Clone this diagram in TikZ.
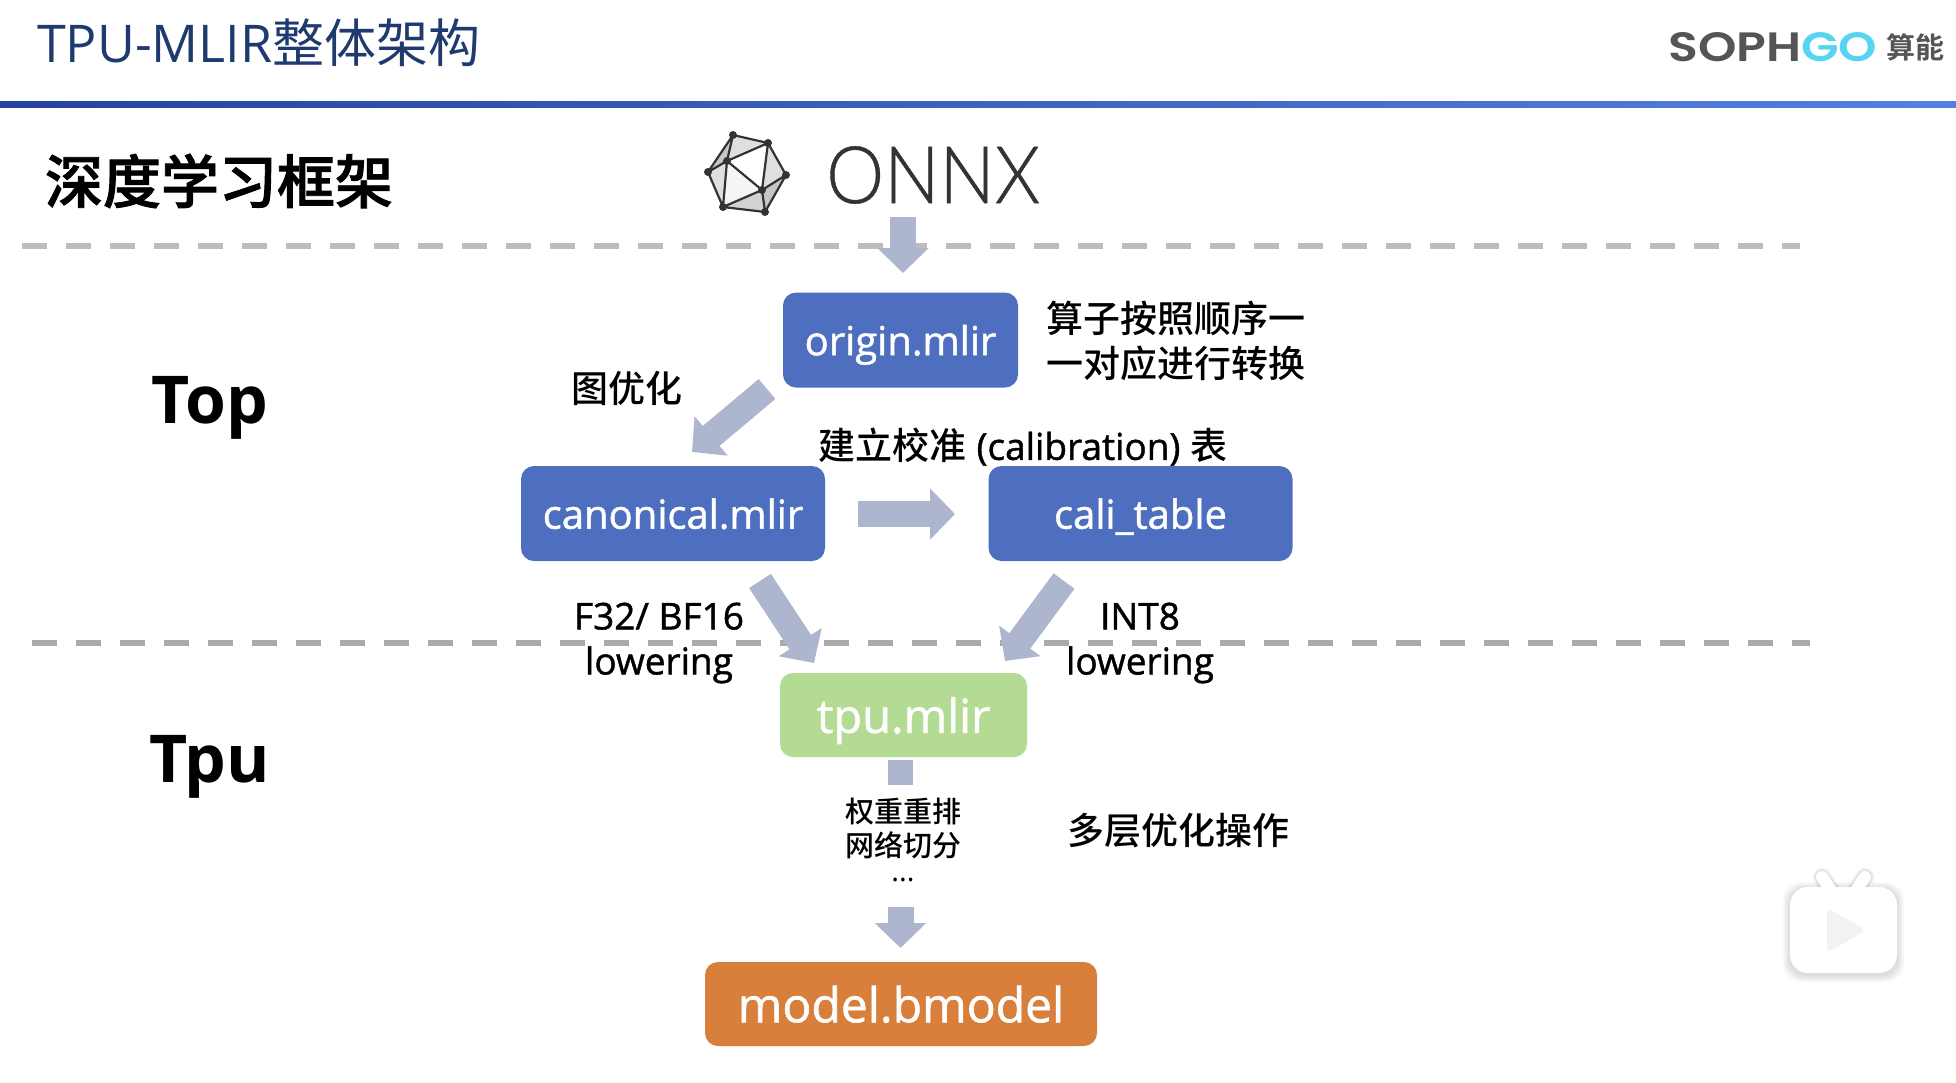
\documentclass[tikz,border=0pt]{standalone}
\usepackage{fontspec}
\setmainfont{Open Sans}
\newfontfamily\cjk{Noto Sans CJK SC Medium}
\newfontfamily\cjkbold{Noto Sans CJK SC Bold}
\newfontfamily\cjkheavy[FakeBold=1.5]{Noto Sans CJK SC Medium}
\newfontfamily\onnxfont[FakeBold=0.6]{Lato Light}
\newfontfamily\logofont{Poppins SemiBold}
\newfontfamily\semifont[FakeBold=1.2]{Open Sans}
\usetikzlibrary{arrows.meta}
\definecolor{boxblue}{HTML}{4E6EBF}
\definecolor{boxgreen}{HTML}{B3DB93}
\definecolor{boxorange}{HTML}{D97F3C}
\definecolor{arrowgray}{HTML}{AEB6CF}
\definecolor{dashgray}{HTML}{BDBDBD}
\definecolor{titleblue}{HTML}{1F3A6E}
\definecolor{barleft}{HTML}{24449E}
\definecolor{barright}{HTML}{5580E0}
\definecolor{logogray}{HTML}{555555}
\definecolor{logocyan}{HTML}{55D5F2}
\tikzset{
  stage/.style = {rounded corners=13pt, text=white, inner sep=0pt, minimum height=95pt, text depth=0pt, font=\fontsize{40pt}{40pt}\selectfont\semifont},
  label/.style = {inner sep=0pt, align=center, font=\fontsize{37pt}{45pt}\selectfont\semifont},
  layer/.style = {inner sep=0pt, font=\fontsize{66pt}{66pt}\selectfont\bfseries},
  flow/.style = {draw=arrowgray, line width=26pt, -{Triangle[length=25pt,width=50pt]}},
  stub/.style = {draw=arrowgray, line width=25pt},
  divider/.style = {draw=dashgray, line width=6pt, dash pattern=on 25pt off 19pt},
}
\begin{document}
\begin{tikzpicture}[x=1pt,y=-1pt]
  \useasboundingbox (0,0) rectangle (1956,1082);

  \shade[left color=barleft, right color=barright] (0,101) rectangle (1956,107);
  \node[inner sep=0pt, anchor=west, text=titleblue, font=\fontsize{52pt}{52pt}\selectfont] (title) at (37,43) {TPU-MLIR{\fontspec{Noto Sans CJK SC}整体架构}};

  % logo
  \node[inner sep=0pt, anchor=west] (logo) at (1668,47) {\resizebox{209pt}{29pt}{\logofont\textcolor{logogray}{SOPH}\textcolor{logocyan}{GO}}};
  \node[inner sep=0pt, anchor=west, text=logogray, font=\fontsize{29pt}{29pt}\selectfont] (logocn) at (1886,47) {\cjkbold 算能};

  \draw[divider] (22,246) -- (1800,246);
  \draw[divider, draw=dashgray!90!black] (32,643) -- (1810,643);

  \node[inner sep=0pt, font=\fontsize{58pt}{58pt}\selectfont] (framework) at (219,181) {\cjkheavy 深度学习框架};
  \node[layer] (top) at (210,408) {Top};
  \node[layer] (tpu) at (210,767) {Tpu};

  % onnx logo
  \coordinate (p1) at (733,135);
  \coordinate (p2) at (768,143);
  \coordinate (p3) at (786,175);
  \coordinate (p4) at (765,212);
  \coordinate (p5) at (723,207);
  \coordinate (p6) at (708,172);
  \coordinate (p7) at (727,161);
  \coordinate (p8) at (762,190);
  \fill[gray!45] (p1) -- (p2) -- (p3) -- (p4) -- (p5) -- (p6) -- cycle;
  \fill[gray!25] (p1) -- (p2) -- (p7) -- cycle;
  \fill[gray!25] (p2) -- (p3) -- (p8) -- cycle;
  \fill[gray!25] (p6) -- (p7) -- (p5) -- cycle;
  \fill[gray!35] (p5) -- (p8) -- (p4) -- cycle;
  \fill[white] (p7) -- (p2) -- (p8) -- cycle;
  \fill[gray!8] (p7) -- (p8) -- (p5) -- cycle;
  \draw[line width=2.2pt, draw=black!80] (p1) -- (p2) -- (p3) -- (p4) -- (p5) -- (p6) -- cycle
    (p1) -- (p7) -- (p2) -- (p8) -- (p7) -- (p6)
    (p7) -- (p5) -- (p8) -- (p4) (p8) -- (p3);
  \foreach \p in {p1,p2,p3,p4,p5,p6,p7,p8} \fill[black!80] (\p) circle (4pt);
  \node[inner sep=0pt, anchor=west, text=black!80] (onnx) at (826,175) {\resizebox{214pt}{57pt}{\onnxfont ONNX}};

  \node[stage, fill=boxblue, minimum width=235pt] (origin) at (900.5,340) {origin.mlir};
  \node[stage, fill=boxblue, minimum width=304pt] (canonical) at (673,513.5) {canonical.mlir};
  \node[stage, fill=boxblue, minimum width=304pt] (cali) at (1140.5,513.5) {cali\_table};
  \node[stage, fill=boxgreen, minimum width=247pt, minimum height=84pt, font=\fontsize{47pt}{47pt}\selectfont\semifont] (tpumlir) at (903.5,715) {tpu.mlir};
  \node[stage, fill=boxorange, minimum width=392pt, minimum height=84pt, font=\fontsize{48pt}{48pt}\selectfont\semifont] (bmodel) at (901,1004) {model.bmodel};

  \coordinate (onnxout) at (903,217);
  \coordinate (originin) at (903,273);
  \coordinate (originout) at (767,389);
  \coordinate (canonin) at (692,452);
  \coordinate (canonout) at (858,514);
  \coordinate (caliin) at (955,514);
  \coordinate (canondown) at (760,581);
  \coordinate (tpuleft) at (814,663);
  \coordinate (calidown) at (1064,581);
  \coordinate (tpuright) at (1005,661);
  \coordinate (stubend) at (900.5,785);
  \coordinate (optout) at (900.5,907);
  \coordinate (bmodelin) at (900.5,948);

  \draw[flow] (onnxout) -- (originin);
  \draw[flow] (originout) -- (canonin);
  \draw[flow] (canonout) -- (caliin);
  \draw[flow] (canondown) -- (tpuleft);
  \draw[flow] (calidown) -- (tpuright);
  \draw[stub] (tpumlir.south -| stubend) ++(0,3) -- (stubend);
  \draw[flow] (optout) -- (bmodelin);

  \node[label] (orderlabel) at (1176,341) {\cjk 算子按照顺序一\\\cjk 一对应进行转换};
  \node[label] (graphlabel) at (627,388) {\cjk 图优化};
  \node[label] (calilabel) at (1023,447) {{\cjk 建立校准} (calibration) {\cjk 表}};
  \node[label] (floatlabel) at (659,643) {F32/ BF16\\lowering};
  \node[label] (intlabel) at (1140,643) {INT8\\lowering};
  \node[label, font=\fontsize{29pt}{34pt}\selectfont, anchor=north] (passlabel) at (903,797.5) {\cjk 权重重排\\\cjk 网络切分\\[-8.5pt]...};
  \node[label] (multilabel) at (1178,831) {\cjk 多层优化操作};

  % player icon
  \foreach \g in {1,2,...,7} {
    \fill[black, opacity=0.018, rounded corners=18pt] (1790-\g,887-\g+2) rectangle (1897+\g,973+\g+2);
    \draw[black, opacity=0.018, line width=12pt+\g pt, line cap=round] (1822,877) -- (1832,892);
    \draw[black, opacity=0.018, line width=12pt+\g pt, line cap=round] (1865,877) -- (1855,892);
  }
  \draw[white, line width=12pt, line cap=round] (1822,877) -- (1832,892);
  \draw[white, line width=12pt, line cap=round] (1865,877) -- (1855,892);
  \fill[white, rounded corners=18pt] (1790,887) rectangle (1897,973);
  \fill[gray!10, rounded corners=5pt] (1827,908) -- (1866,930) -- (1827,953) -- cycle;
\end{tikzpicture}
\end{document}
